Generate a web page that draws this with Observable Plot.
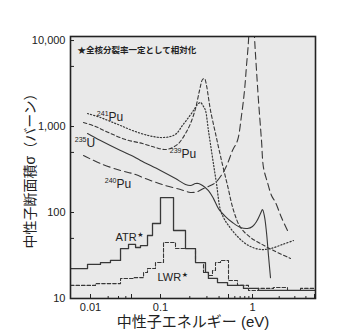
<!DOCTYPE html>
<html><head><meta charset="utf-8">
<script src="https://cdn.jsdelivr.net/npm/d3@7"></script>
<script src="https://cdn.jsdelivr.net/npm/@observablehq/plot@0.6"></script>
<style>body{margin:0;background:#fff} svg{display:block}</style>
</head><body><div id="chart"></div>
<script>
const FONT = '"Liberation Sans", Arial, "Noto Sans CJK JP", sans-serif';

// ---- axis ticks ----
const xTicks = [0.01, 0.05, 0.1, 0.5, 1, 5];
const xMinor = [0.02, 0.03, 0.04, 0.2, 0.3, 0.4, 0.6, 0.7, 0.8, 0.9, 2, 3, 4];
const yTicks = [10, 50, 100, 500, 1000, 5000, 10000];

// ---- cross sections: energy (eV), sigma (barn) ----
const u235E = [0.0089, 0.0148, 0.0325, 0.05, 0.062, 0.1, 0.1426, 0.1807, 0.2033, 0.229, 0.246, 0.2704, 0.311, 0.3507, 0.3945, 0.4656, 0.561, 0.707, 0.865, 1.0, 1.11, 1.231, 1.296, 1.365, 1.438, 1.514, 1.595];
const u235S = [830, 687, 526, 460, 403, 308, 248, 212, 206, 217, 217, 206, 180, 145, 111, 89.8, 76.5, 67.0, 65.2, 68.7, 78.5, 97.2, 108, 89.8, 58.5, 31.6, 17.5];

const pu239E = [0.0076, 0.01216, 0.0203, 0.0395, 0.065, 0.0887, 0.1125, 0.1328, 0.1531, 0.1807, 0.2033, 0.229, 0.2518, 0.2704, 0.2831, 0.2972, 0.311, 0.3266, 0.3676, 0.4236, 0.4887, 0.578, 0.707, 0.944, 1.231, 1.725, 2.68];
const pu239S = [1114, 1000, 851, 706, 634, 570, 540, 570, 634, 830, 1084, 1618, 2624, 3524, 3614, 2999, 2173, 1535, 830, 403, 206, 106, 67.0, 51.2, 43.6, 36.1, 29.2];

const pu241E = [0.0089, 0.0148, 0.0219, 0.0325, 0.0512, 0.075, 0.1, 0.1267, 0.146, 0.168, 0.194, 0.2183, 0.240, 0.2577, 0.2767, 0.290, 0.311, 0.3424, 0.3763, 0.414, 0.455, 0.5, 0.648, 0.891, 1.231, 1.595, 2.178, 2.898];
const pu241S = [1416, 1273, 1143, 1028, 898, 786, 745, 765, 830, 1028, 1273, 1535, 1803, 1900, 1710, 1535, 898, 436, 217, 106, 83.0, 70.7, 52.6, 41.3, 37.2, 38.1, 42.5, 47.2];

const pu240E = [0.0076, 0.0148, 0.0325, 0.0512, 0.0787, 0.1125, 0.1606, 0.2033, 0.240, 0.2767, 0.3266, 0.3676, 0.4339, 0.4887, 0.561, 0.648, 0.728, 0.7938, 0.841, 0.891, 0.972, 1.053, 1.110, 1.168, 1.263, 1.330, 1.476, 1.637, 1.816, 2.122, 2.480];
const pu240S = [460, 371, 308, 284, 236, 206, 185, 171, 175, 190, 206, 223, 284, 371, 526, 687, 1343, 2624, 5117, 10000, 100000, 11140, 4477, 2006, 687, 333, 223, 158, 131, 87.5, 61.8];

// ---- neutron spectra (normalised), step histograms: bin edges (eV) and levels ----
const atrEdges = [0.00456, 0.0089, 0.0148, 0.0219, 0.0325, 0.0445, 0.0551, 0.0620, 0.0733, 0.0826, 0.1, 0.1361, 0.1807, 0.229, 0.290, 0.311, 0.3853, 0.4887, 0.771, 1.168, 5.13];
const atrVals  = [22.3, 24.9, 26.2, 27.7, 38.1, 42.5, 39.2, 41.3, 54.0, 74.5, 149, 61.8, 38.1, 26.2, 20.1, 17.1, 15.3, 14.2, 13.1, 12.4];

const lwrEdges = [0.00456, 0.01216, 0.0325, 0.0525, 0.0667, 0.0733, 0.0887, 0.1074, 0.1426, 0.229, 0.2767, 0.311, 0.3424, 0.3676, 0.414, 0.5, 0.648, 0.891, 1.168, 1.725, 2.480, 3.475, 5.13];
const lwrVals  = [14.2, 14.9, 17.1, 17.5, 20.1, 22.3, 26.2, 44.8, 38.1, 26.2, 20.1, 18.5, 21.2, 26.2, 27.7, 16.2, 14.2, 12.4, 13.1, 13.4, 12.4, 13.1];

// ---- labels ----
const isoLabels = [
  {mass: "241", sym: "Pu", e: 0.0203, s: 1273},
  {mass: "235", sym: "U",  e: 0.00855, s: 634},
  {mass: "239", sym: "Pu", e: 0.1644, s: 472},
  {mass: "240", sym: "Pu", e: 0.0277, s: 212}
];
const specLabels = [
  {text: "ATR", e: 0.0267, s: 51.2},
  {text: "LWR", e: 0.0931, s: 17.5}
];
const note = "★全核分裂率一定として相対化";
const xTitle = "中性子エネルギー (eV)";
const yTitle = "中性子断面積σ（バーン）";

const pts = (E, S) => E.map((e, i) => ({e, s: S[i]}));
const steps = (E, V) => E.map((e, i) => ({e, s: V[Math.min(i, V.length - 1)]}));

const ctx = document.createElement("canvas").getContext("2d");
ctx.font = '11px "Liberation Sans"';
const textW = t => ctx.measureText(t).width;

const ink = "#383838";
const chart = Plot.plot({
  width: 350, height: 333,
  marginLeft: 70, marginRight: 35, marginTop: 36, marginBottom: 35,
  style: {fontFamily: FONT, background: "#fff", color: "#222"},
  x: {type: "log", domain: [0.00456, 0.01, 0.05, 0.1, 0.5, 1, 5.13], range: [70, 90, 131, 160, 228, 252, 315]},
  y: {type: "log", domain: [10, 11140]},
  marks: [
    Plot.frame({fill: "#e9e9e9", stroke: null}),
    Plot.line(steps(lwrEdges, lwrVals), {x: "e", y: "s", curve: "step-after", stroke: ink, strokeWidth: 1.1, strokeDasharray: "3.5,2", clip: true}),
    Plot.line(steps(atrEdges, atrVals), {x: "e", y: "s", curve: "step-after", stroke: ink, strokeWidth: 1.3, clip: true}),
    Plot.line(pts(u235E, u235S), {x: "e", y: "s", curve: "catmull-rom", stroke: ink, strokeWidth: 1.1, clip: true}),
    Plot.line(pts(pu239E, pu239S), {x: "e", y: "s", curve: "catmull-rom", stroke: ink, strokeWidth: 1.1, strokeDasharray: "3.5,2.5", clip: true}),
    Plot.line(pts(pu241E, pu241S), {x: "e", y: "s", curve: "catmull-rom", stroke: ink, strokeWidth: 1.2, strokeDasharray: "1.2,2", clip: true}),
    Plot.line(pts(pu240E, pu240S), {x: "e", y: "s", curve: "catmull-rom", stroke: ink, strokeWidth: 1.1, strokeDasharray: "7,4", clip: true}),
    Plot.text(isoLabels, {x: "e", y: "s", text: "sym", textAnchor: "start", fontSize: 12, fill: "#222"}),
    Plot.text(isoLabels, {x: "e", y: "s", text: "mass", textAnchor: "end", dy: -4, fontSize: 7, fill: "#222"}),
    ...specLabels.flatMap(l => [
      Plot.text([l], {x: "e", y: "s", text: "text", textAnchor: "start", fontSize: 11, fill: "#222"}),
      Plot.text([l], {x: "e", y: "s", text: () => "★", textAnchor: "start", dx: textW(l.text) + 0.5, dy: -3, fontSize: 7, fontFamily: '"DejaVu Sans", sans-serif', fill: "#222"})
    ]),
    Plot.text([note], {frameAnchor: "top-left", dx: 7, dy: 10, textAnchor: "start", fontSize: 8.5, fontWeight: "bold", fill: "#222", text: d => d}),
    Plot.axisY({ticks: yTicks, tickSize: 0, tickPadding: 5, tickFormat: d3.format(","), fontSize: 11, label: null}),
    Plot.axisY({ticks: yTicks, tickSize: 4, dx: 4, tickFormat: () => "", label: null}),
    Plot.axisX({ticks: xTicks, tickSize: 0, tickPadding: 5, tickFormat: d => String(d), fontSize: 11, label: null}),
    Plot.axisX({ticks: xTicks, tickSize: 4, dy: -4, tickFormat: () => "", label: null}),
    Plot.axisX({ticks: xMinor, tickSize: 2, dy: -2, tickFormat: () => "", label: null}),
    Plot.text([xTitle], {frameAnchor: "bottom", dy: 24, textAnchor: "middle", lineAnchor: "middle", fontSize: 15, fill: "#222", text: d => d}),
    Plot.text([yTitle], {frameAnchor: "left", dx: -40, rotate: -90, textAnchor: "middle", lineAnchor: "middle", fontSize: 14, fill: "#222", text: d => d}),
    Plot.frame({stroke: "#222", strokeWidth: 1.6})
  ]
});
document.getElementById("chart").append(chart);
</script>
</body></html>
